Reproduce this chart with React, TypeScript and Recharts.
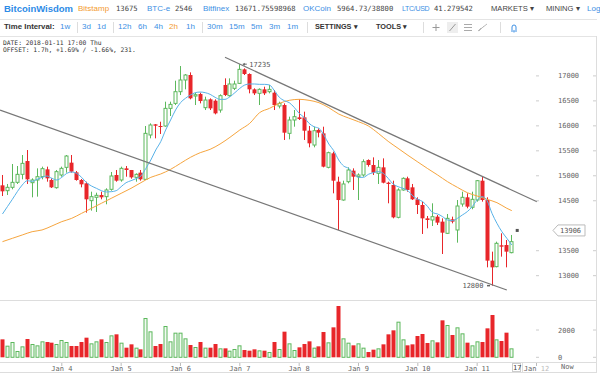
import React from 'react';
import {
  ComposedChart,
  Bar,
  Line,
  XAxis,
  YAxis,
  ReferenceLine,
  ReferenceDot,
} from 'recharts';

// 2h candles, Jan 3 00:00 .. Jan 11 14:00
const opens = [
  14809, 14702, 14769, 14869, 15029, 15296, 14862, 14916, 14982, 15129,
  14916, 14762, 15016, 15169, 15263, 15069, 14916, 14849, 14502, 14569,
  14615, 14582, 14729, 15016, 14916, 15149, 15116, 14969, 15063, 14929,
  15817, 16030, 15997, 15997, 16350, 16450, 16684, 16918, 17018, 16597,
  16637, 16364, 16531, 16504, 16317, 16818, 16604, 16751, 16851, 17131,
  17038, 16731, 16651, 16731, 16684, 16664, 16397, 16417, 15850, 16117,
  16170, 16170, 15903, 15616, 15917, 15850, 15169, 15450, 14882, 14515,
  14882, 15103, 14982, 15016, 15316, 15216, 15049, 15169, 14862, 14816,
  14168, 14716, 14949, 14769, 14529, 14415, 14148, 14115, 14182, 14082,
  13848, 14128, 13915, 14435, 14569, 14369, 14515, 14902, 14515, 13301,
  13181, 13608, 13614, 13461,
];
const highs = [
  15016, 14836, 15236, 15196, 15416, 15516, 14949, 15149, 15183, 15183,
  14949, 15116, 15183, 15416, 15416, 15096, 14936, 14882, 14682, 14662,
  14682, 14749, 15076, 15116, 15183, 15196, 15116, 15049, 15116, 15997,
  16050, 16037, 16083, 16484, 16484, 16904, 17198, 17038, 17071, 16664,
  16664, 16584, 16551, 16531, 16631, 16951, 16951, 16904, 17235, 17151,
  17051, 16751, 16751, 16784, 16818, 16717, 16484, 16450, 16184, 16317,
  16531, 16284, 15997, 15983, 15950, 15983, 15483, 15483, 14982, 14902,
  15169, 15149, 15049, 15329, 15329, 15369, 15316, 15349, 14882, 14902,
  14749, 14969, 14982, 14836, 14569, 14482, 14195, 14449, 14215, 14148,
  14235, 14182, 14515, 14682, 14649, 14682, 14916, 14982, 14569, 13481,
  13681, 13848, 13714, 13815,
];
const lows = [
  14595, 14615, 14729, 14836, 14929, 14836, 14569, 14582, 14929, 14882,
  14756, 14742, 14982, 15063, 15063, 14902, 14769, 14262, 14302, 14275,
  14529, 14429, 14702, 14882, 14882, 14982, 14942, 14882, 14902, 14916,
  15750, 15750, 15837, 15983, 16197, 16417, 16617, 16731, 16531, 16417,
  16450, 16317, 16317, 16230, 16264, 16597, 16584, 16717, 16838, 17018,
  16651, 16617, 16417, 16617, 16651, 16317, 16350, 15717, 15730, 15983,
  16117, 15717, 15570, 15570, 15770, 15169, 15149, 14649, 13915, 14502,
  14849, 14716, 14515, 14982, 15183, 15016, 14836, 14849, 14449, 14148,
  14148, 14702, 14682, 14515, 14235, 13835, 13948, 13995, 14015, 13434,
  13835, 14048, 13661, 14382, 14349, 14329, 14482, 14482, 13167, 12800,
  13167, 13381, 13167, 13448,
];
const closes = [
  14689, 14769, 14869, 15029, 15249, 14929, 14916, 14982, 15143, 14949,
  14769, 15083, 15149, 15396, 15083, 14916, 14829, 14529, 14582, 14609,
  14569, 14716, 14996, 14902, 15149, 15116, 14969, 15029, 14929, 15850,
  16017, 16003, 15977, 16350, 16430, 16684, 16918, 17018, 16551, 16624,
  16497, 16517, 16350, 16250, 16604, 16617, 16838, 16838, 17131, 17038,
  16731, 16651, 16731, 16651, 16731, 16417, 16450, 15863, 16117, 16184,
  16137, 15903, 15650, 15903, 15863, 15183, 15463, 14902, 14515, 14836,
  15116, 14982, 15016, 15283, 15216, 15063, 15169, 14862, 14836, 14168,
  14716, 14949, 14716, 14529, 14415, 14148, 14115, 14182, 14062, 13861,
  14148, 14082, 14395, 14569, 14382, 14529, 14902, 14515, 13301, 13167,
  13648, 13581, 13481, 13681,
];
const volumes = [
  1316, 852, 1121, 462, 803, 1341, 974, 877, 1170, 1121,
  1072, 974, 1267, 1121, 828, 828, 1121, 1438, 1023, 1170,
  1316, 1121, 1609, 1683, 1072, 706, 950, 706, 584, 2879,
  1902, 828, 974, 2293, 1170, 1805, 1805, 1390, 901, 755,
  1121, 706, 706, 974, 657, 657, 486, 608, 877, 535,
  486, 584, 510, 486, 388, 1121, 608, 1878, 1023, 535,
  730, 974, 1170, 706, 803, 1853, 1096, 2195, 3758, 1390,
  1072, 877, 1023, 706, 388, 559, 657, 950, 1683, 1976,
  2610, 1316, 877, 950, 1560, 1707, 1048, 1243, 1096, 2708,
  2366, 1634, 2195, 1756, 1072, 877, 1170, 1121, 2122, 3099,
  1316, 1194, 1805, 657,
];
// fast average (blue)
const maFast = [
  14235, 14382, 14529, 14682, 14816, 14902, 14889, 14929, 14969, 14996,
  14949, 14916, 14969, 15049, 15076, 15049, 14969, 14862, 14796, 14749,
  14702, 14676, 14682, 14702, 14782, 14862, 14902, 14942, 14996, 15149,
  15316, 15516, 15683, 15917, 16117, 16317, 16464, 16551, 16617, 16664,
  16677, 16664, 16631, 16571, 16531, 16531, 16584, 16664, 16751, 16818,
  16838, 16838, 16831, 16831, 16818, 16704, 16571, 16504, 16464, 16370,
  16250, 16170, 16050, 15983, 15950, 15817, 15636, 15503, 15316, 15196,
  15149, 15049, 14969, 14969, 15029, 15063, 15083, 15049, 14949, 14836,
  14782, 14749, 14702, 14595, 14529, 14482, 14382, 14262, 14235, 14182,
  14115, 14102, 14148, 14215, 14282, 14382, 14515, 14582, 14502, 14248,
  14048, 13881, 13748, 13615,
];
// slow average (orange), read at every second candle
const maSlow = [
  13681, null, 13748, null, 13815, null, 13881, null, 13915, null,
  13995, null, 14082, null, 14148, null, 14248, null, 14349, null,
  14449, null, 14549, null, 14649, null, 14749, null, 14862, null,
  14969, null, 15036, null, 15129, null, 15249, null, 15369, null,
  15463, null, 15530, null, 15636, null, 15770, null, 15917, null,
  16050, null, 16264, null, 16350, null, 16450, null, 16511, null,
  16531, null, 16511, null, 16464, null, 16364, null, 16237, null,
  16157, null, 16083, null, 15997, null, 15850, null, 15690, null,
  15550, null, 15410, null, 15276, null, 15143, null, 15016, null,
  14882, null, 14769, null, 14662, null, 14595, null, 14529, null,
  14462, null, 14349, 14302,
];

const priceTicks = [13000, 13500, 14500, 15000, 15500, 16000, 16500, 17000];
const volumeTicks = [0, 2000];
const dayTicks = [12, 24, 36, 48, 60, 72, 84, 96, 108];
const dayLabels = ['Jan 4', 'Jan 5', 'Jan 6', 'Jan 7', 'Jan 8', 'Jan 9', 'Jan 10', 'Jan 11', 'Jan 12'];

// hand-drawn channel lines (candle index / price)
const upperLine = [{ x: 45, y: 17372 }, { x: 108.1, y: 14481 }];
const lowerLine = [{ x: -0.49, y: 16317 }, { x: 102, y: 12714 }];
const cursorPrice = 13906;
const cursorIndex = 104.1;
const peakIndex = 48;
const troughIndex = 99;

const RED = '#e8262a';
const GREEN = '#5cb85c';
const BLUE = '#3d8fe4';
const MONO = '"DejaVu Sans Mono", monospace';
const SANS = '"Liberation Sans", Arial, sans-serif';
const X_DOMAIN = [-0.5, 108.1];

const rows = opens.map((o, i) => ({
  i,
  o,
  h: highs[i],
  l: lows[i],
  c: closes[i],
  range: [lows[i], highs[i]],
  v: volumes[i],
  fast: maFast[i],
  slow: maSlow[i],
}));

const Candle = (props: any) => {
  const { x, y, width, height, payload } = props;
  if (x == null || !payload) return null;
  const { o, h, l, c } = payload;
  const top = Math.min(y, y + height);
  const hh = Math.abs(height);
  const k = h > l ? hh / (h - l) : 0;
  const py = (v: number) => top + (h - v) * k;
  const cx = Math.round(x + width / 2) + 0.5;
  const up = c >= o;
  const bt = py(Math.max(o, c));
  const bb = py(Math.min(o, c));
  return (
    <g>
      <line x1={cx} x2={cx} y1={top} y2={top + hh} stroke={up ? GREEN : RED} strokeWidth={1} />
      {up ? (
        <rect x={cx - 1.5} y={bt} width={3} height={Math.max(bb - bt, 1)} fill="#fff" stroke={GREEN} strokeWidth={1} />
      ) : (
        <rect x={cx - 2} y={bt} width={4} height={Math.max(bb - bt, 1)} fill={RED} />
      )}
    </g>
  );
};

const VolBar = (props: any) => {
  const { x, y, width, height, payload } = props;
  if (x == null || !payload) return null;
  const cx = Math.round(x + width / 2) + 0.5;
  const top = Math.min(y, y + height);
  const hh = Math.abs(height);
  return payload.c >= payload.o ? (
    <rect x={cx - 1.5} y={top + 0.5} width={3} height={Math.max(hh - 0.5, 0)} fill="#f3faf3" stroke={GREEN} strokeWidth={1} />
  ) : (
    <rect x={cx - 2} y={top} width={4} height={hh} fill={RED} />
  );
};

const AxisTick = (props: any) => {
  const { x, y, payload } = props;
  return (
    <g>
      <line x1={x - 1} x2={x + 2} y1={y} y2={y} stroke="#ccc" />
      <text x={x + 21} y={y} dy={2.5} fontSize={7} fill="#666" fontFamily={MONO}>
        {payload.value}
      </text>
      <line x1={x + 56} x2={x + 60} y1={y} y2={y} stroke="#ccc" />
    </g>
  );
};

const DayTick = (props: any) => {
  const { x, y, payload } = props;
  const k = dayTicks.indexOf(payload.value);
  const [mon, day] = dayLabels[k].split(' ');
  const last = k === dayTicks.length - 1;
  return (
    <g>
      <line x1={x} x2={x} y1={y + 1} y2={y + 4} stroke="#bbb" />
      <text x={x} y={y + 8.5} textAnchor="middle" fontSize={7} fill="#666" fontFamily={MONO}>
        {mon} <tspan fill={last ? '#bbb' : '#666'}>{day}</tspan>
      </text>
    </g>
  );
};

const PeakTag = (props: any) => {
  const { cx, cy } = props;
  return (
    <g>
      <line x1={cx + 3} x2={cx + 7} y1={cy} y2={cy} stroke="#666" />
      <path d={`M${cx + 3},${cy} l2,-1.5 l0,3 z`} fill="#666" />
      <text x={cx + 9.5} y={cy} dy={2.5} fontSize={7} fill="#555" fontFamily={MONO}>
        {highs[peakIndex]}
      </text>
    </g>
  );
};

const TroughTag = (props: any) => {
  const { cx, cy } = props;
  return (
    <g>
      <line x1={cx - 5} x2={cx - 2} y1={cy} y2={cy} stroke="#666" strokeWidth={1.5} />
      <text x={cx - 8.5} y={cy} dy={2} textAnchor="end" fontSize={7} fill="#555" fontFamily={MONO}>
        {lows[troughIndex]}
      </text>
    </g>
  );
};

const CursorDot = (props: any) => {
  const { cx, cy } = props;
  return <rect x={cx - 1.5} y={cy - 1.5} width={3} height={3} fill="#555" />;
};

const PriceTag = (props: any) => {
  const { cx, cy } = props;
  const x0 = cx + 16;
  return (
    <g>
      <path
        d={`M${x0},${cy} L${x0 + 5},${cy - 5.5} L${x0 + 32},${cy - 5.5} L${x0 + 32},${cy + 5.5} L${x0 + 5},${cy + 5.5} Z`}
        fill="#fff"
        stroke="#bbb"
      />
      <text x={x0 + 7} y={cy} dy={2.5} fontSize={7} fill="#555" fontFamily={MONO}>
        {cursorPrice}
      </text>
    </g>
  );
};

function T({ x, y, size = 8, color = '#444', mono = false, bold = false, ls = 0, children }: any) {
  return (
    <span
      style={{
        position: 'absolute',
        left: x,
        top: y - size * 0.6,
        fontSize: size,
        lineHeight: `${size * 1.2}px`,
        color,
        fontFamily: mono ? MONO : SANS,
        fontWeight: bold ? 700 : 400,
        letterSpacing: ls,
        whiteSpace: 'pre',
      }}
    >
      {children}
    </span>
  );
}

const HLine = ({ y, x1 = 0, x2 = 597, color = '#ddd' }: any) => (
  <div style={{ position: 'absolute', left: x1, top: y, width: x2 - x1, height: 1, background: color }} />
);
const VLine = ({ x, y1, y2, color = '#ddd' }: any) => (
  <div style={{ position: 'absolute', left: x, top: y1, width: 1, height: y2 - y1, background: color }} />
);

export default function App() {
  const intervals = [
    ['1w', 60], ['3d', 82], ['1d', 97], ['12h', 118], ['6h', 138], ['4h', 154], ['2h', 169],
    ['1h', 186], ['30m', 207], ['15m', 229], ['5m', 251], ['3m', 269], ['1m', 287],
  ];
  return (
    <div style={{ position: 'relative', width: 600, height: 378, overflow: 'hidden', background: '#fff' }}>
      <style>{'body{margin:0}'}</style>

      {/* market ticker */}
      <T x={4} y={9} size={9.5} color="#2d8be6" bold>BitcoinWisdom</T>
      <T x={78} y={9} color="#f39a2e">Bitstamp</T>
      <T x={116} y={9} size={7.2} mono>13675</T>
      <T x={147} y={9} color={BLUE}>BTC-e</T>
      <T x={175} y={9} size={7.2} mono>2546</T>
      <T x={203} y={9} color={BLUE}>Bitfinex</T>
      <T x={235} y={9} size={7.2} mono>13671.75598968</T>
      <T x={303} y={9} color={BLUE}>OKCoin</T>
      <T x={337} y={9} size={7.2} mono>5964.73/38800</T>
      <T x={402} y={9} size={7} color={BLUE} ls={-0.3}>LTC/USD</T>
      <T x={434} y={9} size={7.2} mono>41.279542</T>
      <T x={491} y={9} size={7.6} color="#444">MARKETS ▾</T>
      <T x={546} y={9} size={7.6} color="#444">MINING ▾</T>
      <T x={587} y={9} color={BLUE}>Log</T>

      {/* toolbar */}
      <HLine y={19} color="#e4e4e4" />
      <T x={4} y={27} size={7.8} color="#333" bold>Time Interval:</T>
      {intervals.map(([t, x]) => (
        <T key={t} x={x} y={27} color={t === '2h' ? '#f39a2e' : BLUE}>{t}</T>
      ))}
      {[77, 113, 202, 307, 423, 500].map((x) => (
        <VLine key={x} x={x} y1={22} y2={33} />
      ))}
      <T x={315} y={27} size={7.3} color="#333" bold>SETTINGS ▾</T>
      <T x={376} y={27} size={7.3} color="#333" bold>TOOLS ▾</T>
      <svg style={{ position: 'absolute', left: 430, top: 20 }} width={100} height={15}>
        <path d="M6,4 v7 M2.5,7.5 h7" stroke="#999" strokeWidth={1} />
        <rect x={17} y={2} width={11} height={11} fill="#eee" />
        <path d="M19.5,11 L25.5,4" stroke="#999" />
        <path d="M34,4.5 h8 M34,7.5 h8 M34,10.5 h8" stroke="#aaa" />
        <path d="M48,11 L57,4 M49,11 L54,6 M48,11 L51,8" stroke="#bbb" />
        <path d="M81,11 h6 M82,10 v-3 a2,2 0 0 1 4,0 v3 M83.5,12 h1" stroke={BLUE} fill="none" />
      </svg>
      <HLine y={36} color="#e4e4e4" />

      <T x={3} y={42.3} size={6.3} color="#333" mono>DATE: 2018-01-11 17:00 Thu</T>
      <T x={3} y={49.3} size={6.3} color="#333" mono>OFFSET: 1.7h, +1.69% / -1.66%, 231.</T>

      {/* price panel */}
      <div style={{ position: 'absolute', left: 0, top: 37 }}>
        <ComposedChart width={600} height={263} data={rows} margin={{ top: 0, right: 4, bottom: 0, left: 0 }}>
          <XAxis type="number" dataKey="i" domain={X_DOMAIN} hide allowDataOverflow />
          <YAxis
            orientation="right"
            domain={[12513, 17779]}
            ticks={priceTicks}
            width={59}
            axisLine={false}
            tickLine={false}
            tickSize={0}
            tickMargin={0}
            tick={<AxisTick />}
            allowDataOverflow
          />
          <Bar dataKey="range" barSize={4} shape={<Candle />} isAnimationActive={false} />
          <Line dataKey="slow" type="monotone" stroke="#f6a53e" strokeWidth={1} dot={false} connectNulls isAnimationActive={false} />
          <Line dataKey="fast" type="monotone" stroke="#58b2e8" strokeWidth={1} dot={false} isAnimationActive={false} />
          <ReferenceLine segment={upperLine} stroke="#777" strokeWidth={1.2} ifOverflow="visible" />
          <ReferenceLine segment={lowerLine} stroke="#777" strokeWidth={1.2} ifOverflow="visible" />
          <ReferenceDot x={peakIndex} y={highs[peakIndex]} shape={<PeakTag />} ifOverflow="visible" />
          <ReferenceDot x={troughIndex} y={lows[troughIndex]} shape={<TroughTag />} ifOverflow="visible" />
          <ReferenceDot x={cursorIndex} y={cursorPrice} shape={<CursorDot />} ifOverflow="visible" />
          <ReferenceDot x={X_DOMAIN[1]} y={cursorPrice} shape={<PriceTag />} ifOverflow="visible" />
        </ComposedChart>
      </div>

      {/* volume panel */}
      <HLine y={300} />
      <div style={{ position: 'absolute', left: 0, top: 301 }}>
        <ComposedChart width={600} height={72} data={rows} margin={{ top: 0, right: 4, bottom: 0, left: 0 }}>
          <XAxis
            type="number"
            dataKey="i"
            domain={X_DOMAIN}
            ticks={dayTicks}
            height={11}
            axisLine={false}
            tickLine={false}
            tickSize={0}
            tickMargin={0}
            tick={<DayTick />}
            interval={0}
            allowDataOverflow
          />
          <YAxis
            orientation="right"
            domain={[-344, 4125]}
            ticks={volumeTicks}
            width={59}
            axisLine={false}
            tickLine={false}
            tickSize={0}
            tickMargin={0}
            tick={<AxisTick />}
            allowDataOverflow
          />
          <Bar dataKey="v" barSize={4} shape={<VolBar />} isAnimationActive={false} />
        </ComposedChart>
      </div>
      <HLine y={362} />
      <HLine y={372} />
      <VLine x={596} y1={36} y2={373} />
      <div
        style={{
          position: 'absolute', left: 512, top: 363, width: 9, height: 9, border: '1px solid #ccc',
          boxSizing: 'border-box', background: '#fff', fontFamily: MONO, fontSize: 7, lineHeight: '8px',
          color: '#444', textAlign: 'center',
        }}
      >
        17
      </div>
      <VLine x={522} y1={363} y2={372} />
      <T x={561} y={367.5} size={7} color="#666" mono>Now</T>
    </div>
  );
}
